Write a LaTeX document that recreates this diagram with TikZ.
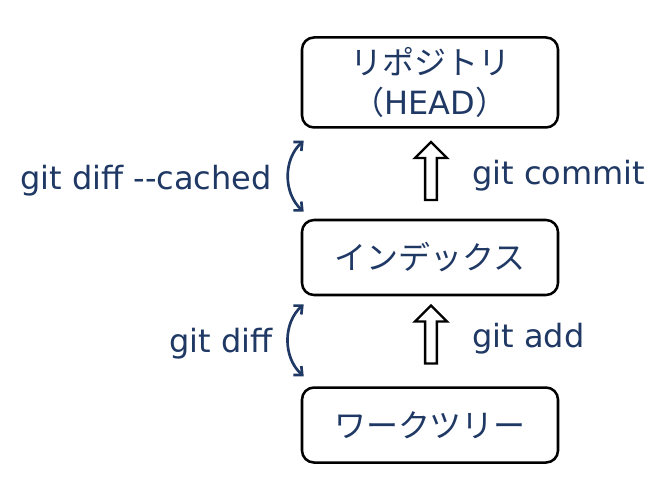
\documentclass[tikz,border=0pt]{standalone}
\usepackage{fontspec}
\setmainfont{DejaVu Sans}
\newfontfamily\jp{Noto Sans CJK JP}
\usetikzlibrary{positioning,shapes.arrows,arrows.meta}
\definecolor{gitblue}{RGB}{31,56,100}
\begin{document}
\begin{tikzpicture}[x=0.75pt,y=-0.75pt,node distance=67.5pt,
  every node/.style={font=\fontsize{24}{30}\selectfont,text=gitblue},
  area/.style={draw=black,line width=1.9pt,rounded corners=9pt,minimum width=192pt,align=center,inner sep=0pt},
  push/.style={single arrow,draw=black,line width=1.8pt,fill=white,minimum width=24pt,minimum height=43.5pt,single arrow head extend=7pt,single arrow head indent=0pt,inner sep=3.2pt,shape border rotate=90},
  compare/.style={{Straight Barb[length=5pt,width=9pt]}-{Straight Barb[length=5pt,width=9pt]},draw=gitblue,line width=2pt},
  cmd/.style={inner sep=0pt}]
\useasboundingbox (0,0) rectangle (669,492);
\node (index) [area,minimum height=56.25pt] at (430,257.5) {\jp インデックス};
\node (repo)  [area,minimum height=67.5pt,above=of index] {\jp リポジトリ\\{\jp （}HEAD{\jp ）}};
\node (work)  [area,minimum height=56.25pt,below=of index] {\jp ワークツリー};
\node (commit) [push] at (431,174) {};
\node (add)    [push] at (431,337.5) {};
\node (commitlbl) [cmd,anchor=base west] at (472,185) {git commit};
\node (addlbl)    [cmd,anchor=base west] at (472,348) {git add};
\coordinate (c1) at ([shift={(3,12)}]repo.south west);
\coordinate (c2) at ([shift={(3,-7)}]index.north west);
\coordinate (d1) at ([shift={(3,8)}]index.south west);
\coordinate (d2) at ([shift={(3,-10)}]work.north west);
\draw[compare] (c1) to[bend right=48] (c2);
\draw[compare] (d1) to[bend right=48] (d2);
\node (cachedlbl) [cmd,anchor=base east] at (272,190) {git diff -{}-cached};
\node (difflbl)   [cmd,anchor=base east] at (273,353) {git diff};
\end{tikzpicture}
\end{document}
